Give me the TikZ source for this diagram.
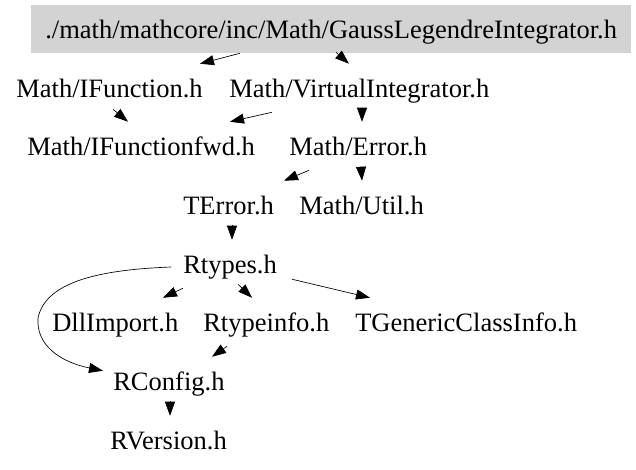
\documentclass[tikz,border=0pt]{standalone}
\usepackage{fontspec}
\setmainfont{Liberation Serif}
\usetikzlibrary{arrows.meta}
\begin{document}
\begin{tikzpicture}[x=0.75pt, y=-0.75pt,
  file/.style={anchor=base west, inner xsep=9pt, inner ysep=0pt,
    text height=24.75pt, text depth=11.25pt,
    font=\fontsize{19.9pt}{24pt}\selectfont},
  edge/.style={line width=0.5pt, -{Triangle[length=10.5pt, width=7.5pt]}}]
\definecolor{boxgrey}{HTML}{D3D3D3}
\useasboundingbox (0,0) rectangle (636,469);
% files
\node[file, fill=boxgrey, inner xsep=10.5pt] (gli) at (31,38) {./math/mathcore/inc/Math/GaussLegendreIntegrator.h};
\node[file] (ifn) at (4,97) {Math/IFunction.h};
\node[file] (vint) at (217,97) {Math/VirtualIntegrator.h};
\node[file] (ifwd) at (15,155) {Math/IFunctionfwd.h};
\node[file] (err) at (277,155) {Math/Error.h};
\node[file] (terr) at (171,214) {TError.h};
\node[file] (util) at (287,214) {Math/Util.h};
\node[file] (rtyp) at (171,273) {Rtypes.h};
\node[file] (dll) at (40,331) {DllImport.h};
\node[file] (rinfo) at (191,331) {Rtypeinfo.h};
\node[file] (tgen) at (343,331) {TGenericClassInfo.h};
\node[file] (rcfg) at (101,390) {RConfig.h};
\node[file] (rver) at (98,449) {RVersion.h};
% includes
\draw[edge] ([shift={(209,0)}]gli.south west) -- ([shift={(196,0)}]ifn.north west);
\draw[edge] ([shift={(305,-1)}]gli.south west) -- ([shift={(132,0)}]vint.north west);
\draw[edge] ([shift={(109,-3)}]ifn.south west) -- ([shift={(113,0)}]ifwd.north west);
\draw[edge] ([shift={(55,0)}]vint.south west) -- ([shift={(215,0)}]ifwd.north west);
\draw[edge] ([shift={(145,-4)}]vint.south west) -- ([shift={(85,0)}]err.north west);
\draw[edge] ([shift={(32,0)}]err.south west) -- ([shift={(113,0)}]terr.north west);
\draw[edge] ([shift={(84,-4)}]err.south west) -- ([shift={(75,0)}]util.north west);
\draw[edge] ([shift={(61,-4)}]terr.south west) -- ([shift={(61,0)}]rtyp.north west);
\draw[edge] ([shift={(12,0)}]rtyp.south west) -- ([shift={(123,0)}]dll.north west);
\draw[edge] ([shift={(67,-4)}]rtyp.south west) -- ([shift={(61,0)}]rinfo.north west);
\draw[edge] ([shift={(3,-9)}]rtyp.south east) -- ([shift={(27,0)}]tgen.north west);
\draw[edge] ([shift={(0,3)}]rtyp.west) .. controls (90,270) and (45,285) .. (38,318)
  .. controls (36,345) and (60,362) .. ([shift={(2,14)}]rcfg.north west);
\draw[edge] ([shift={(36,0)}]rinfo.south west) -- ([shift={(111,0)}]rcfg.north west);
\draw[edge] ([shift={(69,-4)}]rcfg.south west) -- ([shift={(72,0)}]rver.north west);
\end{tikzpicture}
\end{document}
